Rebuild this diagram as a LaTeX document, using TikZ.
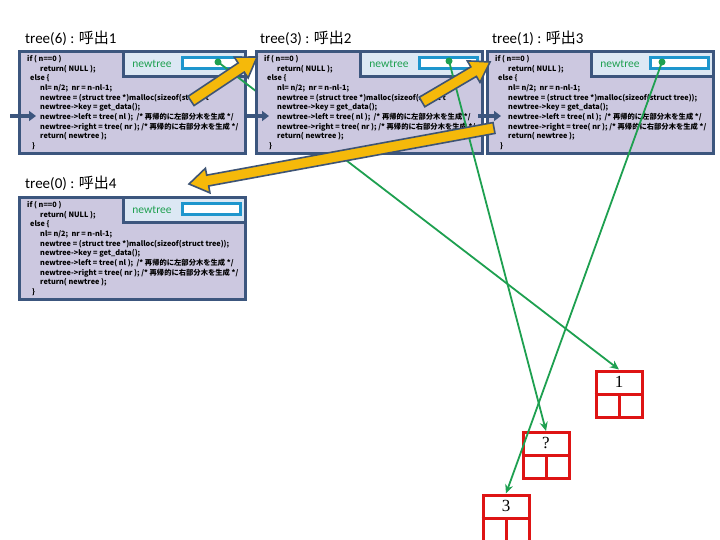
\documentclass[tikz,border=0pt]{standalone}
\usepackage{fontspec}
\setmainfont{Carlito}
\newfontfamily\cjk{Noto Sans CJK JP}
\newfontfamily\numfont{Liberation Serif}
\usetikzlibrary{arrows.meta,calc}
\definecolor{panelfill}{RGB}{204,200,224}
\definecolor{paneldraw}{RGB}{60,86,126}
\definecolor{boxfill}{RGB}{220,232,244}
\definecolor{cyanb}{RGB}{30,150,205}
\definecolor{lgreen}{RGB}{30,160,80}
\definecolor{yfill}{RGB}{245,185,10}
\definecolor{yedge}{RGB}{62,84,116}
\definecolor{nred}{RGB}{222,20,20}
\tikzset{
  panelbox/.style={draw=paneldraw, fill=panelfill, line width=3pt, minimum width=226pt, minimum height=102pt, inner sep=0pt},
  nbox/.style={draw=paneldraw, fill=boxfill, line width=3pt, minimum width=122pt, minimum height=25pt, inner sep=0pt},
  wbox/.style={draw=cyanb, fill=white, line width=2.5pt, minimum width=58pt, minimum height=11pt, inner sep=0pt},
  nlabel/.style={text=lgreen, font=\fontsize{11.5}{13}\selectfont, inner sep=0pt},
  code/.style={font=\cjk\bfseries\fontsize{7.3}{9.7}\selectfont, align=left, inner sep=0pt, text=black},
  title/.style={font=\fontsize{15}{17}\selectfont, inner sep=0pt},
  smallarr/.style={draw=paneldraw, line width=4.5pt, -{Triangle[length=7pt,width=10pt]}},
  glink/.style={draw=lgreen, line width=1.8pt, -{Stealth[length=9pt,width=8pt]}},
  gdot/.style={fill=lgreen},
  yarr/.style={draw=yedge, fill=yfill, line width=1.6pt, line join=miter},
  redbox/.style={draw=nred, fill=white, line width=3pt, minimum width=46pt, minimum height=46pt, inner sep=0pt},
  redline/.style={draw=nred, line width=3pt},
  numlabel/.style={font=\numfont\fontsize{17}{19}\selectfont, inner sep=0pt}
}
\newcommand{\drawpanel}[4]{%
  \node[panelbox, anchor=north west] (#1) at (#2,#3) {};
  \node[nbox, anchor=north east] (#1nb) at (#1.north east) {};
  \node[wbox] (#1wb) at ($(#1nb.east)+(-35.5,-1)$) {};
  \node[nlabel] (#1nl) at ($(#1nb.west)+(30,0)$) {newtree};
  \node[code, anchor=north west] (#1code) at ($(#1.north west)+(9,5)$) {%
    if ( n==0 )\\
    \hspace*{13pt}return( NULL );\\
    \hspace*{3pt}else \{\\
    \hspace*{13pt}nl= n/2;\ \ nr = n-nl-1;\\
    \hspace*{13pt}#4\\
    \hspace*{13pt}newtree->key = get\_data();\\
    \hspace*{13pt}newtree->left = tree( nl );\ \ /* 再帰的に左部分木を生成 */\\
    \hspace*{13pt}newtree->right = tree( nr ); /* 再帰的に右部分木を生成 */\\
    \hspace*{13pt}return( newtree );\\
    \hspace*{5pt}\}};
}
\newcommand{\bigarrow}[2]{%
  \coordinate (hb) at ($(#2)!19pt!(#1)$);
  \draw[yarr] ($(#1)!5.5pt!90:(#2)$) -- ($(hb)!5.5pt!90:(#2)$) -- ($(hb)!12.5pt!90:(#2)$) -- (#2)
    -- ($(hb)!12.5pt!-90:(#2)$) -- ($(hb)!5.5pt!-90:(#2)$) -- ($(#1)!5.5pt!-90:(#2)$) -- cycle;
}
\begin{document}
\begin{tikzpicture}[x=1pt, y=-1pt]
\useasboundingbox (0,0) rectangle (720,540);
\fill[white] (0,0) rectangle (720,540);

% titles
\node[title, anchor=west] (t1) at (25,38) {tree(6) : {\cjk 呼出}1};
\node[title, anchor=west] (t2) at (260,38) {tree(3) : {\cjk 呼出}2};
\node[title, anchor=west] (t3) at (492,38) {tree(1) : {\cjk 呼出}3};
\node[title, anchor=west] (t4) at (25,183) {tree(0) : {\cjk 呼出}4};

% red tree nodes
\node[redbox] (n1) at (619,394) {};
\draw[redline] (n1.west) -- (n1.east) (n1.center) -- (n1.south);
\node[numlabel] (n1t) at ($(n1.north)!0.5!(n1.center)$) {1};
\node[redbox] (n2) at (546,455.5) {};
\draw[redline] (n2.west) -- (n2.east) (n2.center) -- (n2.south);
\node[numlabel] (n2t) at ($(n2.north)!0.5!(n2.center)$) {?};
\node[redbox] (n3) at (506,518) {};
\draw[redline] (n3.west) -- (n3.east) (n3.center) -- (n3.south);
\node[numlabel] (n3t) at ($(n3.north)!0.5!(n3.center)$) {3};

% panel 1
\drawpanel{p1}{18}{50}{newtree = (struct tree *)malloc(sizeof(struct t}
\coordinate (a1s) at (10,116);
\coordinate (a1e) at (36,116);
\draw[smallarr] (a1s) -- (a1e);
\coordinate (d1) at (218,62);
\draw[glink] (d1) -- (n1.north);
\fill[gdot] (d1) circle (3.5);

% panel 2
\drawpanel{p2}{255}{50}{newtree = (struct tree *)malloc(sizeof(struct t}
\coordinate (a2s) at (246,116);
\coordinate (a2e) at (269,116);
\draw[smallarr] (a2s) -- (a2e);
\coordinate (d2) at (449,61);
\draw[glink] (d2) -- (n2.north);
\fill[gdot] (d2) circle (3.5);

% panel 3
\drawpanel{p3}{486}{50}{newtree = (struct tree *)malloc(sizeof(struct tree));}
\coordinate (a3s) at (478,116);
\coordinate (a3e) at (501,116);
\draw[smallarr] (a3s) -- (a3e);
\coordinate (d3) at (662,62);
\draw[glink] (d3) -- (n3.north);
\fill[gdot] (d3) circle (3.5);

% panel 4
\drawpanel{p4}{18}{196}{newtree = (struct tree *)malloc(sizeof(struct tree));}

% yellow call arrows
\coordinate (y1s) at (191,101);
\coordinate (y1e) at (257,57);
\bigarrow{y1s}{y1e}
\coordinate (y2s) at (422,102);
\coordinate (y2e) at (490,62);
\bigarrow{y2s}{y2e}
\coordinate (y3s) at (494,128);
\coordinate (y3e) at (189,184);
\bigarrow{y3s}{y3e}
\end{tikzpicture}
\end{document}
